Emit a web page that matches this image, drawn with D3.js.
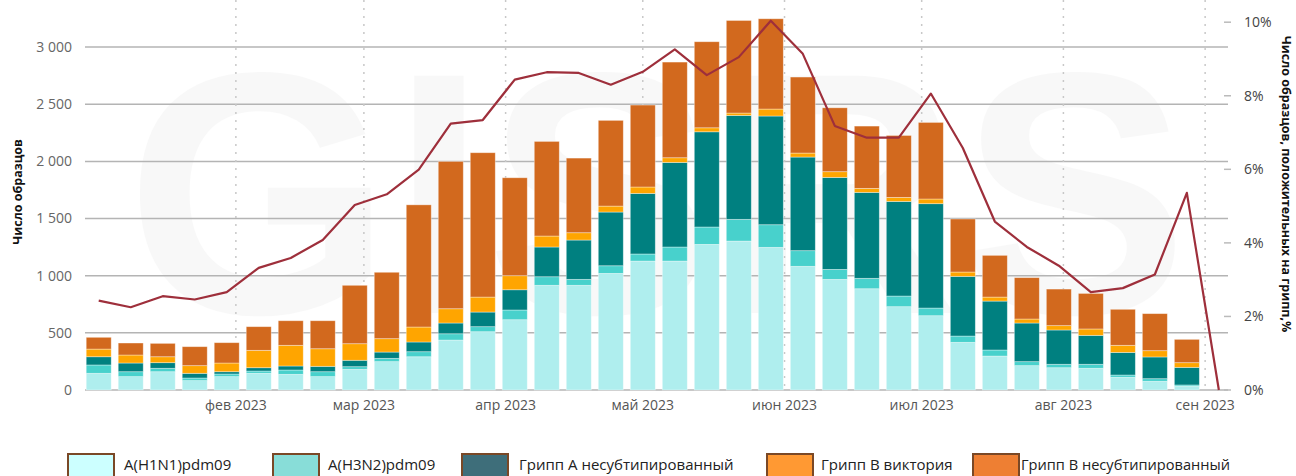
<!DOCTYPE html>
<html>
<head>
<meta charset="utf-8">
<script src="https://d3js.org/d3.v7.min.js"></script>
<style>
  body { margin: 0; background: #fff; }
  svg { display: block; }
  text { font-family: "Open Sans", sans-serif; }
</style>
</head>
<body>
<div id="chart"></div>
<script>
// weekly data, week starting Monday
var weeks = ["2023-01-02","2023-01-09","2023-01-16","2023-01-23","2023-01-30","2023-02-06",
	"2023-02-13","2023-02-20","2023-02-27","2023-03-06","2023-03-13","2023-03-20",
	"2023-03-27","2023-04-03","2023-04-10","2023-04-17","2023-04-24","2023-05-01",
	"2023-05-08","2023-05-15","2023-05-22","2023-05-29","2023-06-05","2023-06-12",
	"2023-06-19","2023-06-26","2023-07-03","2023-07-10","2023-07-17","2023-07-24",
	"2023-07-31","2023-08-07","2023-08-14","2023-08-21","2023-08-28","2023-09-04"];

var h1n1 = [146,117,160,82,117,146,137,117,181,248,291,437,510,615,916,916,1020,1128,
	1128,1274,1303,1248,1082,968,886,729,650,417,297,213,195,190,111,76,32,0];
var h3n2 = [73,43,30,23,23,20,38,43,23,29,44,55,44,85,75,52,67,62,
	123,152,190,198,137,87,91,93,67,55,53,35,30,35,20,23,12,0];
var aUnsub = [72,76,49,41,20,29,35,47,56,55,85,94,128,177,260,344,470,530,
	740,833,909,951,819,805,752,828,913,522,428,338,300,253,198,190,154,0];
var bVic = [67,70,52,67,76,152,181,154,145,117,131,125,131,123,96,64,52,56,
	41,35,21,61,35,50,35,35,41,38,35,35,38,56,62,55,41,0];
var bUnsub = [103,105,117,166,178,207,215,245,511,581,1069,1289,1263,857,828,653,750,717,
	837,753,810,790,665,559,545,542,670,464,365,362,320,311,315,324,204,0];

// % of samples positive for influenza
var positive = [2.43,2.25,2.55,2.46,2.66,3.32,3.59,4.08,5.03,5.32,5.99,7.24,7.34,8.44,8.64,8.62,8.30,8.65,
	9.26,8.56,9.05,10.04,9.14,7.18,6.86,6.86,8.06,6.58,4.58,3.89,3.38,2.66,2.77,3.14,5.36,0];

var seriesNames = ["A(H1N1)pdm09", "A(H3N2)pdm09", "Грипп A несубтипированный", "Грипп B виктория", "Грипп B несубтипированный"];
var barColors = ["#afeeee", "#48d1cc", "#008080", "#ffa500", "#d2691e"];
var legendColors = ["#ccffff", "#88ddd8", "#3e6e7a", "#ff9933", "#ee7f33"];

var leftTicks = [0, 500, 1000, 1500, 2000, 2500, 3000];
var rightTicks = [0, 2, 4, 6, 8, 10];
var monthTicks = ["2023-02-01","2023-03-01","2023-04-01","2023-05-01","2023-06-01","2023-07-01","2023-08-01","2023-09-01"];
var monthLabels = ["фев 2023","мар 2023","апр 2023","май 2023","июн 2023","июл 2023","авг 2023","сен 2023"];

var width = 1296,
	height = 476,
	LEFT = 85,
	RIGHT = 1228,
	BOTTOM = 390,
	BAR_WIDTH = 25;

var parse = d3.utcParse("%Y-%m-%d");

var svg = d3.select("#chart").append("svg")
	.attr("width", width)
	.attr("height", height);

var x = d3.scaleUtc()
	.domain([parse("2022-12-30"), parse("2023-09-06")])
	.range([LEFT, RIGHT]);

var y = d3.scaleLinear().domain([0, 3000]).range([BOTTOM, 47.1]);
var y2 = d3.scaleLinear().domain([0, 10]).range([BOTTOM, 22.2]);

// faint watermark behind the plot
svg.append("text")
	.attr("x", 126)
	.attr("y", 313)
	.attr("textLength", 1062)
	.attr("lengthAdjust", "spacingAndGlyphs")
	.style("font-family", "'Liberation Sans', sans-serif")
	.style("font-size", "345px")
	.style("font-weight", "bold")
	.style("fill", "#000")
	.style("opacity", 0.022)
	.text("GISRS");

// horizontal grid
svg.append("g").selectAll("line")
	.data(leftTicks)
	.enter().append("line")
	.attr("x1", LEFT)
	.attr("x2", RIGHT)
	.attr("y1", function(d) { return y(d); })
	.attr("y2", function(d) { return y(d); })
	.style("stroke", "#b4b4b4")
	.style("stroke-width", 1.5);

// month dotted lines
svg.append("g").selectAll("line")
	.data(monthTicks)
	.enter().append("line")
	.attr("x1", function(d) { return x(parse(d)); })
	.attr("x2", function(d) { return x(parse(d)); })
	.attr("y1", 0)
	.attr("y2", BOTTOM)
	.style("stroke", "#c8c8c8")
	.style("stroke-width", 1.5)
	.style("stroke-dasharray", "2,6");

// stacked bars
var rows = weeks.map(function(w, i) {
	return { date: parse(w), v: [h1n1[i], h3n2[i], aUnsub[i], bVic[i], bUnsub[i]] };
});
var stack = d3.stack()
	.keys([0, 1, 2, 3, 4])
	.value(function(d, k) { return d.v[k]; });
var layers = stack(rows);

svg.append("g").selectAll("g")
	.data(layers)
	.enter().append("g")
	.style("fill", function(d, i) { return barColors[i]; })
	.selectAll("rect")
	.data(function(d) { return d.filter(function(s) { return s[1] - s[0] > 0; }); })
	.enter().append("rect")
	.attr("x", function(d) { return x(d.data.date) - BAR_WIDTH / 2; })
	.attr("width", BAR_WIDTH)
	.attr("y", function(d) { return y(d[1]); })
	.attr("height", function(d) { return y(d[0]) - y(d[1]); })
	.style("stroke", "rgba(255,255,255,0.45)")
	.style("stroke-width", 0.8);

// positivity line
var line = d3.line()
	.x(function(d, i) { return x(parse(weeks[i])); })
	.y(function(d) { return y2(d); });

svg.append("path")
	.datum(positive)
	.attr("d", line)
	.style("fill", "none")
	.style("stroke", "#9e2f3b")
	.style("stroke-width", 2.2)
	.style("stroke-linejoin", "round");

// left axis labels
var fmt = d3.formatLocale({ decimal: ",", thousands: " ", grouping: [3], currency: ["", ""] }).format(",");
svg.append("g").selectAll("text")
	.data(leftTicks)
	.enter().append("text")
	.attr("x", 72)
	.attr("y", function(d) { return y(d); })
	.attr("dy", "0.35em")
	.attr("text-anchor", "end")
	.style("font-size", "14px")
	.style("fill", "#666")
	.text(function(d) { return fmt(d); });

// right axis ticks and labels
var r = svg.append("g");
r.selectAll("line")
	.data(rightTicks)
	.enter().append("line")
	.attr("x1", 1224)
	.attr("x2", 1231)
	.attr("y1", function(d) { return y2(d); })
	.attr("y2", function(d) { return y2(d); })
	.style("stroke", "#bbb")
	.style("stroke-width", 1.5);
r.selectAll("text")
	.data(rightTicks)
	.enter().append("text")
	.attr("x", 1244)
	.attr("y", function(d) { return y2(d); })
	.attr("dy", "0.35em")
	.style("font-size", "14px")
	.style("fill", "#444")
	.text(function(d) { return d + "%"; });

// month labels
svg.append("g").selectAll("text")
	.data(monthTicks)
	.enter().append("text")
	.attr("x", function(d) { return x(parse(d)); })
	.attr("y", 410)
	.attr("text-anchor", "middle")
	.style("font-size", "14px")
	.style("fill", "#555")
	.text(function(d, i) { return monthLabels[i]; });

// axis titles
svg.append("text")
	.attr("transform", "translate(22,192) rotate(-90)")
	.attr("text-anchor", "middle")
	.style("font-size", "12.5px")
	.style("font-weight", "bold")
	.style("fill", "#111")
	.text("Число образцов");

svg.append("text")
	.attr("transform", "translate(1282,184) rotate(90)")
	.attr("text-anchor", "middle")
	.style("font-size", "12.5px")
	.style("font-weight", "bold")
	.style("fill", "#111")
	.text("Число образцов, положительных на грипп,%");

// legend
var legendX = [67, 272, 461, 766, 972];
var legend = svg.append("g").selectAll("g")
	.data(seriesNames)
	.enter().append("g")
	.attr("transform", function(d, i) { return "translate(" + legendX[i] + ",453)"; });
legend.append("rect")
	.attr("x", 1)
	.attr("y", 1)
	.attr("width", 46)
	.attr("height", 23)
	.style("fill", function(d, i) { return legendColors[i]; })
	.style("stroke", "#7a4826")
	.style("stroke-width", 2);
legend.append("text")
	.attr("x", function(d, i) { return [57, 56, 58, 55, 49][i]; })
	.attr("y", 17)
	.style("font-size", function(d, i) { return i == 4 ? "14.6px" : "15px"; })
	.style("fill", "#222")
	.text(function(d) { return d; });
</script>
</body>
</html>
